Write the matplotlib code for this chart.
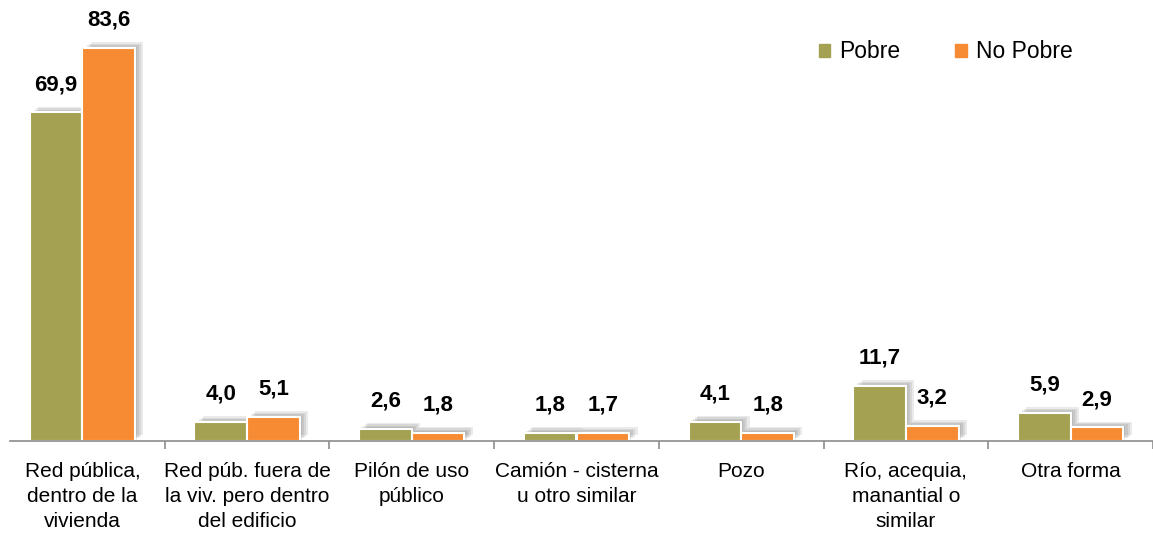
import numpy as np
import matplotlib
matplotlib.use('Agg')
import matplotlib.pyplot as plt
import matplotlib.patheffects as pe
from matplotlib.patches import Patch

categories = ['Red pública,\ndentro de la\nvivienda',
              'Red púb. fuera de\nla viv. pero dentro\ndel edificio',
              'Pilón de uso\npúblico',
              'Camión - cisterna\nu otro similar',
              'Pozo',
              'Río, acequia,\nmanantial o\nsimilar',
              'Otra forma']
pobre = [69.9, 4.0, 2.6, 1.8, 4.1, 11.7, 5.9]
no_pobre = [83.6, 5.1, 1.8, 1.7, 1.8, 3.2, 2.9]

col_pobre = '#A5A152'
col_nopobre = '#F68B33'

plt.rcParams['font.family'] = ['Liberation Sans', 'DejaVu Sans']

fig = plt.figure(figsize=(11.53, 5.44), dpi=100)
ax = fig.add_axes([0, 103 / 544, 1, 423 / 544])

x = np.arange(len(categories))
w = 0.32
# soft drop shadow: a few faint layers
shadow = [pe.SimplePatchShadow(offset=(d, d * 0.7), shadow_rgbFace='#444444', alpha=0.11)
          for d in (1.5, 3, 4.5, 6)] + [pe.Normal()]

b1 = ax.bar(x - w / 2, pobre, w, color=col_pobre, edgecolor='white', linewidth=1.5,
            path_effects=shadow)
b2 = ax.bar(x + w / 2, no_pobre, w, color=col_nopobre, edgecolor='white', linewidth=1.5,
            path_effects=shadow)

for bars, vals in ((b1, pobre), (b2, no_pobre)):
    for rect, v in zip(bars, vals):
        ax.annotate(f'{v:.1f}'.replace('.', ','),
                    (rect.get_x() + rect.get_width() / 2, rect.get_height()),
                    xytext=(0, 12.5), textcoords='offset points', ha='center', va='bottom',
                    fontsize=16, fontweight='bold')

ax.set_xlim(-0.5, -0.5 + 1153 / 167)
ax.set_ylim(0, 90)

for s in ['top', 'right', 'left']:
    ax.spines[s].set_visible(False)
ax.spines['bottom'].set_color('#8c8c8c')
ax.spines['bottom'].set_linewidth(1.2)
ax.spines['bottom'].set_bounds(-0.5 + 10 / 167, 7)
ax.set_yticks([])

ax.set_xticks(x)
ax.set_xticklabels(categories, fontsize=15, linespacing=1.4)
ax.tick_params(axis='x', which='major', length=0, pad=15)
ax.set_xticks(np.arange(0.5, 6.6, 1), minor=True)
ax.tick_params(axis='x', which='minor', length=6, width=1.2, color='#8c8c8c', direction='out')

handles = [Patch(color=col_pobre, label='Pobre'), Patch(color=col_nopobre, label='No Pobre')]
fig.legend(handles=handles, loc='center left', bbox_to_anchor=(0.692, 0.905), ncol=2,
           frameon=False, fontsize=16.5, handlelength=0.5, handleheight=0.5,
           handletextpad=0.4, columnspacing=2.4)

fig.savefig('out.png', dpi=100)
